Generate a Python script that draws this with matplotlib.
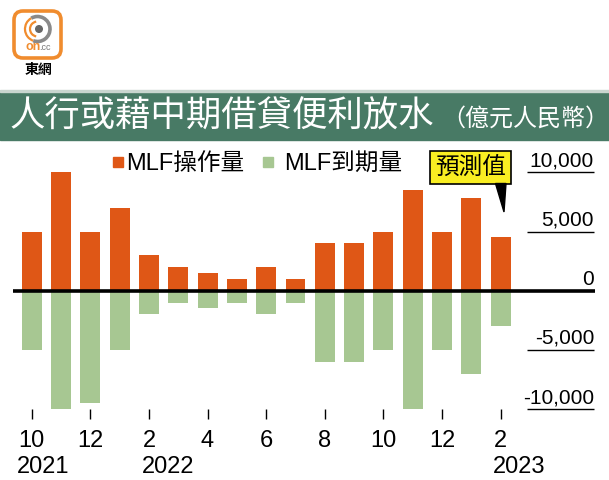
import numpy as np
import matplotlib
matplotlib.use('Agg')
import matplotlib.pyplot as plt
from matplotlib.patches import Rectangle, Polygon, FancyBboxPatch, Arc, Circle

plt.rcParams['font.family'] = ['Liberation Sans', 'Noto Sans CJK TC', 'DejaVu Sans']

# MLF data (億元人民幣), Oct 2021 - Feb 2023
months = ['2021-10', '2021-11', '2021-12', '2022-01', '2022-02', '2022-03',
          '2022-04', '2022-05', '2022-06', '2022-07', '2022-08', '2022-09',
          '2022-10', '2022-11', '2022-12', '2023-01', '2023-02']
mlf_ops = [5000, 10000, 5000, 7000, 3000, 2000, 1500, 1000, 2000, 1000,
           4000, 4000, 5000, 8500, 5000, 7790, 4500]
mlf_due = [5000, 10000, 9500, 5000, 2000, 1000, 1500, 1000, 2000, 1000,
           6000, 6000, 5000, 10000, 5000, 7000, 3000]
series_names = ['MLF操作量', 'MLF到期量']
yticks = [10000, 5000, 0, -5000, -10000]
ytick_labels = ['10,000', '5,000', '0', '-5,000', '-10,000']
tick_pos = [0, 2, 4, 6, 8, 10, 12, 14, 16]
tick_labels = ['10', '12', '2', '4', '6', '8', '10', '12', '2']
year_labels = {0: '2021', 4: '2022', 16: '2023'}

orange = '#df5716'
green = '#a7c792'
title_green = '#487a65'

W, H = 609, 481
fig = plt.figure(figsize=(W / 100, H / 100), dpi=100)

# pixel helpers (layout only)
zero_px = 291.7
K = 5000 / 59.2
x0_px, step_px = 31.7, 29.31
def fx(px):
    return (px - x0_px) / step_px
def fy(py):
    return (zero_px - py) * K
def ff(px, py):
    return (px / W, 1 - py / H)

ax = fig.add_axes([0, 0, 1, 1])
ax.set_xlim(fx(0), fx(W))
ax.set_ylim(fy(H), fy(0))
ax.axis('off')

x = np.arange(len(months))
ax.bar(x, mlf_ops, width=0.68, color=orange, zorder=2)
ax.bar(x, -np.array(mlf_due), width=0.68, color=green, zorder=2)
ax.hlines(0, fx(13), fx(595), color='black', lw=2.6, zorder=3)

# right-hand y labels with underlines
for v, lab in zip(yticks, ytick_labels):
    if v != 0:
        ax.hlines(v, fx(527), fx(594), color='black', lw=1.0)
    ax.text(fx(594), v + 7 * K, lab, ha='right', va='baseline', fontsize=15)

# month ticks
for p, lab in zip(tick_pos, tick_labels):
    ax.vlines(p, fy(420), fy(410), color='black', lw=1.0)
    ax.text(p, fy(447), lab, ha='center', va='baseline', fontsize=17)
    if p in year_labels:
        ax.text(p - len(lab) * 0.255, fy(473), year_labels[p], ha='left',
                va='baseline', fontsize=17)

# legend
for (sx, tx), col, name in zip([(113.3, 125.7), (262.7, 284)], [orange, green], series_names):
    fig.patches.append(Rectangle(ff(sx, 168.3), 10 / W, 10 / H, color=col,
                                 transform=fig.transFigure))
    fig.text(tx / W, 1 - 163.5 / H, name, fontsize=17, va='center', ha='left')

# forecast callout
fig.patches.append(Rectangle(ff(430, 185), 81 / W, 33 / H, facecolor='#f9ee22',
                             edgecolor='black', lw=1.2, transform=fig.transFigure, zorder=5))
fig.patches.append(Polygon([ff(495.5, 184.5), ff(506, 184.5), ff(504, 213)], closed=True,
                           color='black', transform=fig.transFigure, zorder=5))
fig.text(470.5 / W, 1 - 169 / H, '預測值', fontsize=17, ha='center', va='center', zorder=6)

# title bar
fig.patches.append(Rectangle((0, 1 - 141 / H), 1, 49 / H, color=title_green,
                             transform=fig.transFigure))
fig.patches.append(Rectangle((0, 1 - 93 / H), 1, 1.5 / H, color='#c9d6cf',
                             transform=fig.transFigure))
fig.text(9 / W, 1 - 117 / H, '人行或藉中期借貸便利放水', color='white',
         fontsize=25.5, va='center', ha='left')
fig.text(441 / W, 1 - 119 / H, '（億元人民幣）', color='white',
         fontsize=17.3, va='center', ha='left')

# logo
lax = fig.add_axes([12 / W, 1 - 61 / H, 51 / W, 51 / H])
lax.set_xlim(0, 51)
lax.set_ylim(0, 51)
lax.axis('off')
lax.add_patch(FancyBboxPatch((2, 2), 47, 47, boxstyle='round,pad=0,rounding_size=9',
                             facecolor='white', edgecolor='#f08c2e', lw=2.6))
lax.add_patch(Arc((25.5, 31), 25, 25, theta1=-110, theta2=120, color='#8a8a8a', lw=2.6))
lax.add_patch(Arc((25.5, 31), 25, 25, theta1=120, theta2=250, color='#f08c2e', lw=1.6))
lax.add_patch(Arc((25.5, 31), 15, 15, theta1=100, theta2=260, color='#f08c2e', lw=1.6))
lax.add_patch(Circle((27, 31), 3.3, color='#666666'))
lax.text(13, 11, 'on', color='#f08c2e', fontsize=9, fontweight='bold', va='baseline', ha='left')
lax.text(27, 11, '.cc', color='#777777', fontsize=6.5, va='baseline', ha='left')
fig.text(38.5 / W, 1 - 70 / H, '東網', fontsize=10, fontweight='bold', ha='center', va='center')

fig.savefig('out.png', dpi=100)
